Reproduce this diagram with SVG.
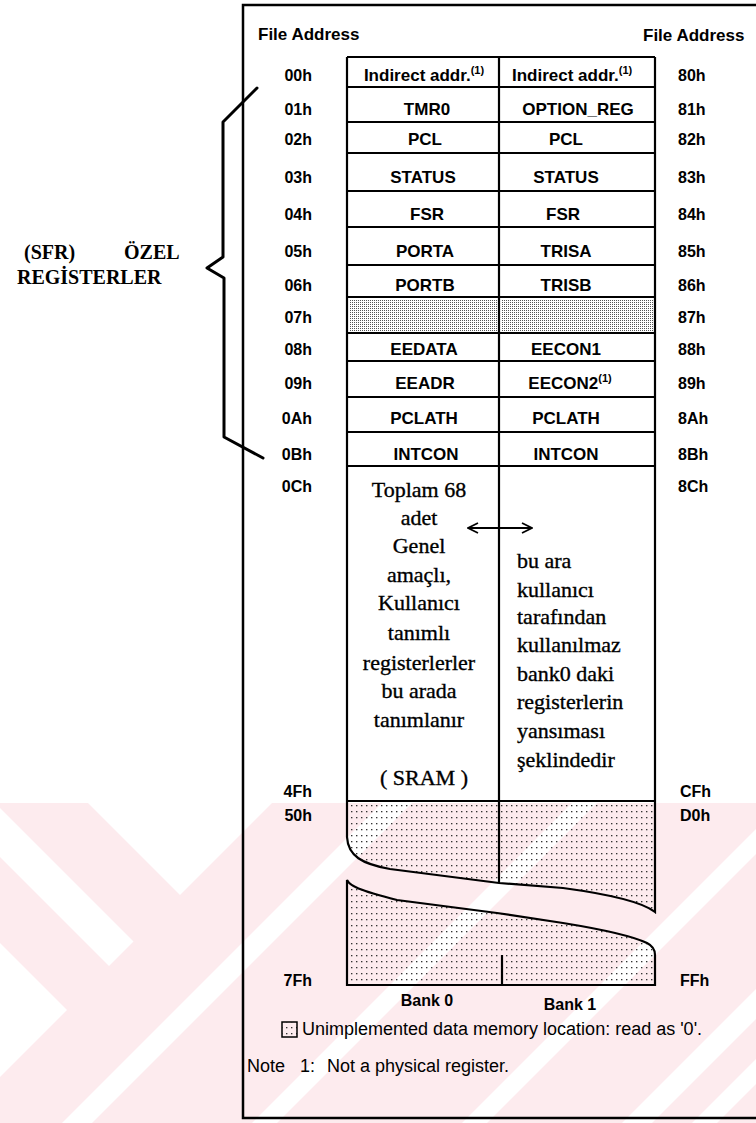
<svg xmlns="http://www.w3.org/2000/svg" width="756" height="1123" viewBox="0 0 756 1123">
<defs>
<style>
.addr{font-family:"Liberation Sans",Arial,sans-serif;font-size:16px;font-weight:bold;fill:#000}
.al{text-anchor:end}
.cell{font-family:"Liberation Sans",Arial,sans-serif;font-size:17px;font-weight:bold;text-anchor:middle;fill:#000}
.hdr{font-family:"Liberation Sans",Arial,sans-serif;font-size:17px;font-weight:bold;fill:#000}
.sup{font-size:11px}
.body{font-family:"Liberation Serif","Times New Roman",serif;font-size:22px;fill:#000;stroke:#000;stroke-width:0.35}
.bl{text-anchor:middle}
.sfr{font-family:"Liberation Serif","Times New Roman",serif;font-size:20px;font-weight:bold;fill:#000}
.note{font-family:"Liberation Sans",Arial,sans-serif;font-size:18px;fill:#000}
.bank{font-family:"Liberation Sans",Arial,sans-serif;font-size:16px;font-weight:bold;text-anchor:middle;fill:#000}
.ln{stroke:#000;stroke-width:2.2;fill:none}
.frame{stroke:#000;stroke-width:2.5;fill:none}
.wm{fill:#fdebee}
</style>
<pattern id="dots" width="5" height="6" patternUnits="userSpaceOnUse"><rect x="1" y="1" width="1.4" height="1.3" fill="#333"/></pattern>
<pattern id="fine" width="2" height="2" patternUnits="userSpaceOnUse"><rect width="1" height="1" fill="#555"/></pattern>
<marker id="ah" viewBox="0 0 12 12" refX="11" refY="6" markerWidth="12" markerHeight="12" markerUnits="userSpaceOnUse" orient="auto-start-reverse"><path d="M1,1 L11,6 L1,11" fill="none" stroke="#000" stroke-width="1.8"/></marker>
</defs>
<rect width="756" height="1123" fill="#fff"/>
<g id="watermark">
<rect class="wm" x="0" y="803" width="756" height="320"/>
<g fill="#fff">
<polygon points="88,803 272,803 180,895"/>
<polygon points="0,808 133.5,941.5 109,966 0,857"/>
<polygon points="0,943 67,1010 0,1077"/>
<polygon points="382,803 412,803 92,1123 62,1123"/>
<polygon points="572,803 597,803 277,1123 252,1123"/>
<polygon points="782,803 807,803 487,1123 462,1123"/>
<polygon points="942,803 972,803 652,1123 622,1123"/>
<polygon points="1012,803 1037,803 717,1123 692,1123"/>
</g>
</g>
<g id="frame">
<path class="frame" d="M756,5 L243,5 L243,1118 L756,1118"/>
<text class="hdr" x="258" y="40">File Address</text>
<text class="hdr" x="643" y="41">File Address</text>
</g>
<g id="table-grid">
<path class="ln" d="M347,57 H655 M347,87 H655 M347,122 H655 M347,153 H655 M347,191 H655 M347,227 H655 M347,265 H655 M347,297 H655 M347,333 H655 M347,361 H655 M347,397 H655 M347,432 H655 M347,466 H655 M347,801 H655 M347,57 V801 M499,57 V801 M655,57 V801"/>
</g>
<g id="row-00h"><text class="addr al" x="312" y="81">00h</text><text class="cell" x="424" y="81">Indirect addr.<tspan class="sup" dy="-7">(1)</tspan></text><text class="cell" x="512" y="81" style="text-anchor:start">Indirect addr.<tspan class="sup" dy="-7">(1)</tspan></text><text class="addr" x="678" y="81">80h</text></g>
<g id="row-01h"><text class="addr al" x="312" y="115">01h</text><text class="cell" x="427" y="115">TMR0</text><text class="cell" x="578" y="115">OPTION_REG</text><text class="addr" x="678" y="115">81h</text></g>
<g id="row-02h"><text class="addr al" x="312" y="145">02h</text><text class="cell" x="425" y="145">PCL</text><text class="cell" x="566" y="145">PCL</text><text class="addr" x="678" y="145">82h</text></g>
<g id="row-03h"><text class="addr al" x="312" y="183">03h</text><text class="cell" x="423" y="183">STATUS</text><text class="cell" x="566" y="183">STATUS</text><text class="addr" x="678" y="183">83h</text></g>
<g id="row-04h"><text class="addr al" x="312" y="220">04h</text><text class="cell" x="427" y="220">FSR</text><text class="cell" x="563" y="220">FSR</text><text class="addr" x="678" y="220">84h</text></g>
<g id="row-05h"><text class="addr al" x="312" y="257">05h</text><text class="cell" x="425" y="257">PORTA</text><text class="cell" x="566" y="257">TRISA</text><text class="addr" x="678" y="257">85h</text></g>
<g id="row-06h"><text class="addr al" x="312" y="291">06h</text><text class="cell" x="425" y="291">PORTB</text><text class="cell" x="566" y="291">TRISB</text><text class="addr" x="678" y="291">86h</text></g>
<g id="row-07h"><text class="addr al" x="312" y="323">07h</text><rect x="349" y="299.5" width="148" height="31.5" fill="url(#fine)"/><rect x="501" y="299.5" width="152" height="31.5" fill="url(#fine)"/><text class="addr" x="678" y="323">87h</text></g>
<g id="row-08h"><text class="addr al" x="312" y="355">08h</text><text class="cell" x="424" y="355">EEDATA</text><text class="cell" x="566" y="355">EECON1</text><text class="addr" x="678" y="355">88h</text></g>
<g id="row-09h"><text class="addr al" x="312" y="389">09h</text><text class="cell" x="425" y="389">EEADR</text><text class="cell" x="570" y="389">EECON2<tspan class="sup" dy="-7">(1)</tspan></text><text class="addr" x="678" y="389">89h</text></g>
<g id="row-0Ah"><text class="addr al" x="312" y="424">0Ah</text><text class="cell" x="424" y="424">PCLATH</text><text class="cell" x="566" y="424">PCLATH</text><text class="addr" x="678" y="424">8Ah</text></g>
<g id="row-0Bh"><text class="addr al" x="312" y="460">0Bh</text><text class="cell" x="426" y="460">INTCON</text><text class="cell" x="566" y="460">INTCON</text><text class="addr" x="678" y="460">8Bh</text></g>
<g id="gpr-bank0">
<text class="addr al" x="312" y="492">0Ch</text>
<text class="body bl" x="419"><tspan x="419" y="497">Toplam 68</tspan><tspan x="419" y="525">adet</tspan><tspan x="419" y="553">Genel</tspan><tspan x="419" y="582">amaçlı,</tspan><tspan x="419" y="610">Kullanıcı</tspan><tspan x="419" y="640">tanımlı</tspan><tspan x="419" y="670">registerlerler</tspan><tspan x="419" y="698">bu arada</tspan><tspan x="419" y="727">tanımlanır</tspan><tspan x="424" y="785">( SRAM )</tspan></text>
<text class="addr al" x="312" y="797">4Fh</text>
</g>
<g id="gpr-bank1">
<text class="addr" x="678" y="492">8Ch</text>
<text class="body" x="517"><tspan x="517" y="568">bu ara</tspan><tspan x="517" y="597">kullanıcı</tspan><tspan x="517" y="624">tarafından</tspan><tspan x="517" y="652">kullanılmaz</tspan><tspan x="517" y="681">bank0 daki</tspan><tspan x="517" y="709">registerlerin</tspan><tspan x="517" y="738">yansıması</tspan><tspan x="517" y="767">şeklindedir</tspan></text>
<text class="addr" x="680" y="797">CFh</text>
</g>
<g id="unimplemented">
<text class="addr al" x="312" y="821">50h</text>
<text class="addr" x="680" y="821">D0h</text>
<path d="M347,801 L347,837 C348,856 362,864 390,869 L499,883 L563,888 C600,893 640,900 655,912 L655,801 Z" fill="url(#dots)"/>
<path class="ln" d="M347,801 L347,837 C348,856 362,864 390,869 L499,883 L563,888 C600,893 640,900 655,912 L655,801"/>
<path class="ln" d="M499,801 V883"/>
<path d="M347,880 C350,886 358,890 397,900 L497,913 L563,923 C600,929 630,935 647,943 C653,946 655,950 655,955 L655,985 L347,985 Z" fill="url(#dots)"/>
<path class="ln" d="M347,880 C350,886 358,890 397,900 L497,913 L563,923 C600,929 630,935 647,943 C653,946 655,950 655,955 L655,985 L347,985 Z"/>
<path class="ln" d="M502,955 V985"/>
<text class="addr al" x="312" y="986">7Fh</text>
<text class="addr" x="680" y="986">FFh</text>
<text class="bank" x="427" y="1006">Bank 0</text>
<text class="bank" x="570" y="1010">Bank 1</text>
</g>
<g id="sfr-label">
<text class="sfr"><tspan x="24" y="259">(SFR)</tspan><tspan x="124" y="259">ÖZEL</tspan></text>
<text class="sfr" x="17" y="284">REGİSTERLER</text>
</g>
<g id="connectors">
<path d="M257,88 L223,122 L223,257 L207,268 L224,278 L224,437 L263,458" fill="none" stroke="#000" stroke-width="3" stroke-linejoin="round" stroke-linecap="round"/>
<path d="M468,528 L532,528" fill="none" stroke="#000" stroke-width="1.8" marker-start="url(#ah)" marker-end="url(#ah)"/>
</g>
<g id="legend">
<rect x="282" y="1022" width="15" height="15" fill="url(#dots)" stroke="#000" stroke-width="1.5"/>
<text class="note" x="302" y="1035">Unimplemented data memory location: read as '0'.</text>
<text class="note"><tspan x="247" y="1072">Note</tspan><tspan x="300" y="1072">1:</tspan><tspan x="327" y="1072">Not a physical register.</tspan></text>
</g>
</svg>
